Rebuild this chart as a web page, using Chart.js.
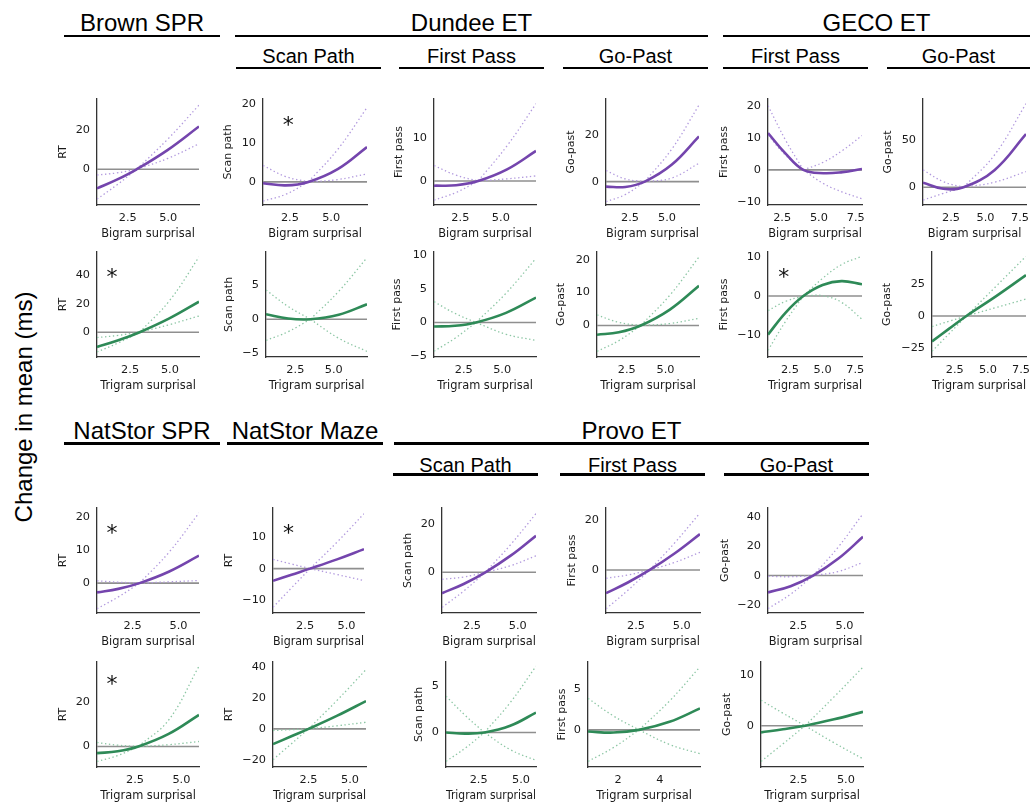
<!DOCTYPE html>
<html>
<head>
<meta charset="utf-8">
<script src="https://cdn.jsdelivr.net/npm/chart.js@4.4.1/dist/chart.umd.min.js"></script>
<style>
  html, body { margin: 0; padding: 0; background: #fff; }
  #page { position: relative; width: 1030px; height: 804px; overflow: hidden; font-family: "Liberation Sans", Arial, sans-serif; }
  .hdr { position: absolute; text-align: center; line-height: 1; color: #000; white-space: nowrap; }
  .rule { position: absolute; height: 2.6px; background: #000; }
  canvas { position: absolute; }
  #ylab { position: absolute; left: -126px; top: 394.5px; width: 300px; height: 24px; line-height: 24px; font-size: 24px; text-align: center; transform: rotate(-90deg); color: #000; }
</style>
</head>
<body>
<div id="page">
  <div id="ylab">Change in mean (ms)</div>
</div>
<script>
// shared x tick labels
const ticksHalf = [2.5, 5.0];
const ticksHalf3 = [2.5, 5.0, 7.5];
const ticksTwo = [2, 4];

// Brown SPR
const brownBiX = [0.6, 1.825, 3.05, 4.975, 6.9];
const brownBiFit = [-9.7, -5.25, 0, 9.86, 21.7];
const brownBiHi = [-2.9, -1.85, 0, 15.3, 32.5];
const brownBiLo = [-15.1, -7.95, 0, 5.5, 12.9];
const brownBiYLim = [-18.1, 35.6];
const brownBiYTicks = [0, 20];

const brownTriX = [0.42, 1.76, 3.1, 4.965, 6.83];
const brownTriFit = [-10.3, -5.68, 0, 9.67, 21.4];
const brownTriHi = [-3.8, -2.2, 0, 22, 52.8];
const brownTriLo = [-13.8, -7.5, 0, 5.3, 11.4];
const brownTriYLim = [-17.4, 56.3];
const brownTriYTicks = [0, 20, 40];

// Dundee ET
const dunScanBiX = [0.874, 2.247, 3.62, 5.395, 7.17];
const dunScanBiFit = [-0.34, -0.89, 0, 3.27, 8.93];
const dunScanBiHi = [4.2, 1.38, 0, 8.3, 19.0];
const dunScanBiLo = [-4.9, -3.17, 0, 0.6, 2.06];
const dunScanBiYLim = [-5.9, 21.2];
const dunScanBiYTicks = [0, 10, 20];

const dunScanTriX = [0.587, 2.03, 3.48, 5.325, 7.17];
const dunScanTriFit = [0.73, 0.1, 0, 0.66, 2.2];
const dunScanTriHi = [4.3, 1.88, 0, 4.1, 9.07];
const dunScanTriLo = [-3.12, -1.83, 0, -2.8, -4.73];
const dunScanTriYLim = [-5.56, 9.9];
const dunScanTriYTicks = [-5, 0, 5];

const dunFpBiX = [0.874, 2.237, 3.6, 5.385, 7.17];
const dunFpBiFit = [-1.1, -1.01, 0, 2.71, 7.0];
const dunFpBiHi = [3.6, 1.34, 0, 8.2, 18.0];
const dunFpBiLo = [-4.45, -2.69, 0, 0.5, 1.17];
const dunFpBiYLim = [-5.6, 19.1];
const dunFpBiYTicks = [0, 10];

const dunFpTriX = [0.57, 1.935, 3.3, 5.25, 7.2];
const dunFpTriFit = [-0.6, -0.5, 0, 1.43, 3.7];
const dunFpTriHi = [3.1, 1.35, 0, 4.36, 9.55];
const dunFpTriLo = [-4.3, -2.35, 0, -1.76, -2.67];
const dunFpTriYLim = [-5.15, 10.5];
const dunFpTriYTicks = [-5, 0, 5, 10];

const dunGpBiX = [0.874, 2.187, 3.5, 5.335, 7.17];
const dunGpBiFit = [-2.14, -2.29, 0, 7.27, 19.3];
const dunGpBiHi = [4.7, 1.13, 0, 13.97, 32.7];
const dunGpBiLo = [-8.6, -5.52, 0, 1.55, 7.86];
const dunGpBiYLim = [-10, 35.3];
const dunGpBiYTicks = [0, 20];

const dunGpTriX = [0.58, 1.99, 3.4, 5.28, 7.16];
const dunGpTriFit = [-2.8, -2.06, 0, 4.84, 12.06];
const dunGpTriHi = [3.2, 0.94, 0, 9.2, 20.8];
const dunGpTriLo = [-7.84, -4.58, 0, 0.6, 2.2];
const dunGpTriYLim = [-9.55, 22.3];
const dunGpTriYTicks = [0, 10, 20];

// GECO ET
const gecoFpBiX = [1.54, 2.74, 3.94, 5.3, 6.6, 7.93];
const gecoFpBiFit = [11.6, 5.1, 0, -1.05, -0.7, 0.3];
const gecoFpBiHi = [20.2, 9.3, 0, 2.4, 6.1, 10.8];
const gecoFpBiLo = [10.9, 4.6, 0, -4.3, -7.0, -9.1];
const gecoFpBiYLim = [-11.05, 22.3];
const gecoFpBiYTicks = [-10, 0, 10, 20];

const gecoGpBiX = [0.48, 1.95, 3.41, 5.67, 7.93];
const gecoGpBiFit = [5.0, -1.61, 0, 18.6, 56.8];
const gecoGpBiHi = [18.6, 6.0, 0, 34.9, 89.3];
const gecoGpBiLo = [-13.6, -6.5, 0, 5.5, 16.8];
const gecoGpBiYLim = [-18.9, 94.3];
const gecoGpBiYTicks = [0, 50];

const gecoFpTriX = [0.83, 2.18, 3.53, 5.0, 6.45, 8.01];
const gecoFpTriFit = [-9.8, -4.2, 0, 2.8, 3.8, 3.0];
const gecoFpTriHi = [-3.7, -1.35, 0, 4.5, 8.0, 10.1];
const gecoFpTriLo = [-13.8, -6.4, 0, 0.1, -1.6, -5.9];
const gecoFpTriYLim = [-15.5, 11.2];
const gecoFpTriYTicks = [-10, 0, 10];

const gecoGpTriX = [0.78, 2.08, 3.38, 5.63, 7.88];
const gecoGpTriFit = [-19.9, -9.9, 0, 15.5, 31.9];
const gecoGpTriHi = [-8.3, -4.1, 0, 23.3, 46.6];
const gecoGpTriLo = [-27.7, -13.8, 0, 6.6, 13.2];
const gecoGpTriYLim = [-32.1, 50];
const gecoGpTriYTicks = [-25, 0, 25];

// NatStor
const natSprBiX = [0.56, 1.72, 2.88, 4.5, 6.12];
const natSprBiFit = [-2.83, -1.75, 0, 3.55, 8.38];
const natSprBiHi = [0.7, 0.3, 0, 9.5, 21.4];
const natSprBiLo = [-7.8, -4.2, 0, 0.4, 0.8];
const natSprBiYLim = [-9.1, 22.9];
const natSprBiYTicks = [0, 10, 20];

const natSprTriX = [0.45, 1.565, 2.68, 4.315, 5.95];
const natSprTriFit = [-3.0, -2.18, 0, 5.68, 14.3];
const natSprTriHi = [1.8, 0.6, 0, 12, 36.4];
const natSprTriLo = [-6.8, -4.1, 0, 0.8, 2.26];
const natSprTriYLim = [-9.3, 38.3];
const natSprTriYTicks = [0, 20];

const natMazeBiX = [0.56, 1.68, 2.8, 4.43, 6.06];
const natMazeBiFit = [-3.83, -1.9, 0, 2.9, 6.1];
const natMazeBiHi = [2.9, 1.45, 0, 8.3, 17.2];
const natMazeBiLo = [-12.1, -6.0, 0, -1.85, -3.73];
const natMazeBiYLim = [-13.9, 19.0];
const natMazeBiYTicks = [-10, 0, 10];

const natMazeTriX = [0.36, 1.43, 2.5, 4.23, 5.96];
const natMazeTriFit = [-9.8, -4.9, 0, 8.5, 17.9];
const natMazeTriHi = [-1.06, -0.5, 0, 18.5, 38.1];
const natMazeTriLo = [-19.8, -9.9, 0, 2.0, 4.26];
const natMazeTriYLim = [-24.5, 43];
const natMazeTriYTicks = [-20, 0, 20, 40];

// Provo ET
const provoScanBiX = [0.86, 2.045, 3.23, 4.615, 6.0];
const provoScanBiFit = [-8.57, -4.78, 0, 6.83, 15.0];
const provoScanBiHi = [-2.86, -1.93, 0, 11.4, 24.1];
const provoScanBiLo = [-14.4, -7.7, 0, 2.73, 6.8];
const provoScanBiYLim = [-16.7, 26.4];
const provoScanBiYTicks = [0, 20];

const provoScanTriX = [0.57, 1.705, 2.84, 4.365, 5.89];
const provoScanTriFit = [0, -0.12, 0, 0.72, 2.13];
const provoScanTriHi = [3.9, 1.83, 0, 3.2, 7.1];
const provoScanTriLo = [-3.09, -1.67, 0, -1.83, -2.98];
const provoScanTriYLim = [-3.69, 7.55];
const provoScanTriYTicks = [0, 5];

const provoFpBiX = [0.86, 2.055, 3.25, 4.625, 6.0];
const provoFpBiFit = [-9.33, -5.04, 0, 6.71, 14.4];
const provoFpBiHi = [-3.33, -2.04, 0, 10.96, 22.9];
const provoFpBiLo = [-15.6, -8.17, 0, 3.05, 7.07];
const provoFpBiYLim = [-17.3, 24.9];
const provoFpBiYTicks = [0, 20];

const provoFpTriX = [0.56, 1.78, 3.0, 4.46, 5.92];
const provoFpTriFit = [-0.2, -0.33, 0, 1.0, 2.66];
const provoFpTriHi = [3.9, 1.72, 0, 3.57, 7.8];
const provoFpTriLo = [-3.9, -2.18, 0, -1.8, -2.95];
const provoFpTriYLim = [-4.59, 8.4];
const provoFpTriYTicks = [0, 5];

const provoGpBiX = [0.86, 2.08, 3.3, 4.65, 6.0];
const provoGpBiFit = [-11.6, -7.28, 0, 11.5, 26.6];
const provoGpBiHi = [-0.5, -0.8, 0, 19.4, 42.5];
const provoGpBiLo = [-22.7, -12.8, 0, 2.75, 9.1];
const provoGpBiYLim = [-25.7, 46.4];
const provoGpBiYTicks = [-20, 0, 20, 40];

const provoGpTriX = [0.53, 1.69, 2.85, 4.375, 5.9];
const provoGpTriFit = [-1.3, -0.7, 0, 1.25, 2.73];
const provoGpTriHi = [5.0, 2.45, 0, 5.65, 11.5];
const provoGpTriLo = [-7.0, -3.55, 0, -3.35, -6.5];
const provoGpTriYLim = [-8.1, 12.5];
const provoGpTriYTicks = [0, 10];

const COLORS = {
  bi: { line: "#7445ad", ci: "#b29ade" },
  tri: { line: "#2e8a57", ci: "#8cc6a4" },
};

// header texts and their rules: [text, left, right, textTop, ruleY, size]
const headers = [
  ["Brown SPR", 64, 220, 11.4, 34.7, 24],
  ["Dundee ET", 235, 708, 11.4, 34.7, 24],
  ["GECO ET", 723, 1030, 11.4, 34.7, 24],
  ["Scan Path", 236, 381, 46.1, 66.7, 20],
  ["First Pass", 399, 544, 46.1, 66.7, 20],
  ["Go-Past", 563, 708, 46.1, 66.7, 20],
  ["First Pass", 723, 868, 46.1, 66.7, 20],
  ["Go-Past", 887, 1030, 46.1, 66.7, 20],
  ["NatStor SPR", 64, 220, 419, 442, 24],
  ["NatStor Maze", 227, 383, 419, 442, 24],
  ["Provo ET", 394, 869, 419, 442, 24],
  ["Scan Path", 393, 538, 454.8, 473.3, 20],
  ["First Pass", 560, 705, 454.8, 473.3, 20],
  ["Go-Past", 724, 869, 454.8, 473.3, 20],
];

// box = [axis left, axis right, top, bottom] in page pixels
const panels = [
  { x: brownBiX, fit: brownBiFit, hi: brownBiHi, lo: brownBiLo, yLim: brownBiYLim, yTicks: brownBiYTicks, xTicks: ticksHalf, kind: "bi", ylab: "RT", box: [97, 199, 99, 205], yOff: 33.5 },
  { x: brownTriX, fit: brownTriFit, hi: brownTriHi, lo: brownTriLo, yLim: brownTriYLim, yTicks: brownTriYTicks, xTicks: ticksHalf, kind: "tri", ylab: "RT", box: [97, 199, 252, 357], yOff: 33.5, star: [0.146, 0.187] },
  { x: dunScanBiX, fit: dunScanBiFit, hi: dunScanBiHi, lo: dunScanBiLo, yLim: dunScanBiYLim, yTicks: dunScanBiYTicks, xTicks: ticksHalf, kind: "bi", ylab: "Scan path", box: [263, 367, 99, 205], yOff: 34, star: [0.242, 0.194] },
  { x: dunScanTriX, fit: dunScanTriFit, hi: dunScanTriHi, lo: dunScanTriLo, yLim: dunScanTriYLim, yTicks: dunScanTriYTicks, xTicks: ticksHalf, kind: "tri", ylab: "Scan path", box: [266, 367, 252, 357], yOff: 36.4 },
  { x: dunFpBiX, fit: dunFpBiFit, hi: dunFpBiHi, lo: dunFpBiLo, yLim: dunFpBiYLim, yTicks: dunFpBiYTicks, xTicks: ticksHalf, kind: "bi", ylab: "First pass", box: [434, 536, 99, 205], yOff: 34 },
  { x: dunFpTriX, fit: dunFpTriFit, hi: dunFpTriHi, lo: dunFpTriLo, yLim: dunFpTriYLim, yTicks: dunFpTriYTicks, xTicks: ticksHalf, kind: "tri", ylab: "First pass", box: [434, 536, 252, 357], yOff: 36 },
  { x: dunGpBiX, fit: dunGpBiFit, hi: dunGpBiHi, lo: dunGpBiLo, yLim: dunGpBiYLim, yTicks: dunGpBiYTicks, xTicks: ticksHalf, kind: "bi", ylab: "Go-past", box: [606, 699, 99, 205], yOff: 34 },
  { x: dunGpTriX, fit: dunGpTriFit, hi: dunGpTriHi, lo: dunGpTriLo, yLim: dunGpTriYLim, yTicks: dunGpTriYTicks, xTicks: ticksHalf, kind: "tri", ylab: "Go-past", box: [597, 699, 252, 357], yOff: 35 },
  { x: gecoFpBiX, fit: gecoFpBiFit, hi: gecoFpBiHi, lo: gecoFpBiLo, yLim: gecoFpBiYLim, yTicks: gecoFpBiYTicks, xTicks: ticksHalf3, kind: "bi", ylab: "First pass", box: [768, 862, 99, 205], yOff: 43 },
  { x: gecoFpTriX, fit: gecoFpTriFit, hi: gecoFpTriHi, lo: gecoFpTriLo, yLim: gecoFpTriYLim, yTicks: gecoFpTriYTicks, xTicks: ticksHalf3, kind: "tri", ylab: "First pass", box: [768, 862, 252, 357], yOff: 43, star: [0.168, 0.187] },
  { x: gecoGpBiX, fit: gecoGpBiFit, hi: gecoGpBiHi, lo: gecoGpBiLo, yLim: gecoGpBiYLim, yTicks: gecoGpBiYTicks, xTicks: ticksHalf3, kind: "bi", ylab: "Go-past", box: [923, 1026, 99, 205], yOff: 34 },
  { x: gecoGpTriX, fit: gecoGpTriFit, hi: gecoGpTriHi, lo: gecoGpTriLo, yLim: gecoGpTriYLim, yTicks: gecoGpTriYTicks, xTicks: ticksHalf3, kind: "tri", ylab: "Go-past", box: [932, 1026, 252, 357], yOff: 44 },
  { x: natSprBiX, fit: natSprBiFit, hi: natSprBiHi, lo: natSprBiLo, yLim: natSprBiYLim, yTicks: natSprBiYTicks, xTicks: ticksHalf, kind: "bi", ylab: "RT", box: [97, 199, 508, 613], yOff: 33.4, star: [0.146, 0.18] },
  { x: natSprTriX, fit: natSprTriFit, hi: natSprTriHi, lo: natSprTriLo, yLim: natSprTriYLim, yTicks: natSprTriYTicks, xTicks: ticksHalf, kind: "tri", ylab: "RT", box: [97, 199, 662, 767], yOff: 33.4, star: [0.146, 0.157] },
  { x: natMazeBiX, fit: natMazeBiFit, hi: natMazeBiHi, lo: natMazeBiLo, yLim: natMazeBiYLim, yTicks: natMazeBiYTicks, xTicks: ticksHalf, kind: "bi", ylab: "RT", box: [273, 364, 508, 613], yOff: 43.4, star: [0.17, 0.18] },
  { x: natMazeTriX, fit: natMazeTriFit, hi: natMazeTriHi, lo: natMazeTriLo, yLim: natMazeTriYLim, yTicks: natMazeTriYTicks, xTicks: ticksHalf, kind: "tri", ylab: "RT", box: [273, 366, 662, 767], yOff: 43.4 },
  { x: provoScanBiX, fit: provoScanBiFit, hi: provoScanBiHi, lo: provoScanBiLo, yLim: provoScanBiYLim, yTicks: provoScanBiYTicks, xTicks: ticksHalf, kind: "bi", ylab: "Scan path", box: [442, 536, 508, 613], yOff: 33.4 },
  { x: provoScanTriX, fit: provoScanTriFit, hi: provoScanTriHi, lo: provoScanTriLo, yLim: provoScanTriYLim, yTicks: provoScanTriYTicks, xTicks: ticksHalf, kind: "tri", ylab: "Scan path", box: [446, 536, 662, 767], yOff: 26.4 },
  { x: provoFpBiX, fit: provoFpBiFit, hi: provoFpBiHi, lo: provoFpBiLo, yLim: provoFpBiYLim, yTicks: provoFpBiYTicks, xTicks: ticksHalf, kind: "bi", ylab: "First pass", box: [606, 700, 508, 613], yOff: 33 },
  { x: provoFpTriX, fit: provoFpTriFit, hi: provoFpTriHi, lo: provoFpTriLo, yLim: provoFpTriYLim, yTicks: provoFpTriYTicks, xTicks: ticksTwo, kind: "tri", ylab: "First pass", box: [588, 700, 662, 767], yOff: 25.6 },
  { x: provoGpBiX, fit: provoGpBiFit, hi: provoGpBiHi, lo: provoGpBiLo, yLim: provoGpBiYLim, yTicks: provoGpBiYTicks, xTicks: ticksHalf, kind: "bi", ylab: "Go-past", box: [768, 863, 508, 613], yOff: 42.6 },
  { x: provoGpTriX, fit: provoGpTriFit, hi: provoGpTriHi, lo: provoGpTriLo, yLim: provoGpTriYLim, yTicks: provoGpTriYTicks, xTicks: ticksHalf, kind: "tri", ylab: "Go-past", box: [761, 863, 662, 767], yOff: 33.3 },
];

const page = document.getElementById("page");

headers.forEach(function (h) {
  const t = document.createElement("div");
  t.className = "hdr";
  t.textContent = h[0];
  t.style.left = h[1] + "px";
  t.style.width = h[2] - h[1] + "px";
  t.style.top = h[3] + "px";
  t.style.fontSize = h[5] + "px";
  page.appendChild(t);
  const r = document.createElement("div");
  r.className = "rule";
  r.style.left = h[1] + "px";
  r.style.width = h[2] - h[1] + "px";
  r.style.top = h[4] + "px";
  page.appendChild(r);
});

function fmtTick(v, dec) {
  const s = Math.abs(v).toFixed(dec);
  return v < 0 ? "\u2212" + s : s;
}

const starPlugin = {
  id: "star",
  afterDraw(chart, args, opts) {
    if (!opts.at) return;
    const a = chart.chartArea;
    const ctx = chart.ctx;
    ctx.save();
    ctx.font = '22px "DejaVu Sans"';
    ctx.fillStyle = "#111";
    ctx.textAlign = "center";
    ctx.textBaseline = "alphabetic";
    ctx.fillText("*", a.left + opts.at[0] * (a.right - a.left), a.top + opts.at[1] * (a.bottom - a.top) + 0.58 * 22);
    ctx.restore();
  },
};

const pts = (xs, ys) => xs.map((x, i) => ({ x: x, y: ys[i] }));

panels.forEach(function (p) {
  const padL = 62, padT = 16, padR = 16, padB = 2, xh = 36;
  const yw = Math.round(p.yOff + 6.6);
  const [left, right, top, bottom] = p.box;
  const cw = right - left + padL + padR;
  const ch = bottom - top + padT + xh + padB;
  const cv = document.createElement("canvas");
  cv.width = cw;
  cv.height = ch;
  cv.style.left = left - padL + "px";
  cv.style.top = top - padT + "px";
  cv.style.width = cw + "px";
  cv.style.height = ch + "px";
  page.appendChild(cv);

  const col = COLORS[p.kind];
  const n = p.x.length;
  const k = p.hi.findIndex((v, i) => v === 0 && p.lo[i] === 0);
  const xdec = p.xTicks.every((v) => Number.isInteger(v)) ? 0 : 1;

  const ciSet = (ys, a, b) => ({
    data: pts(p.x.slice(a, b), ys.slice(a, b)),
    borderColor: col.ci,
    borderWidth: 1.3,
    borderDash: [1.4, 2.6],
    tension: 0.4,
  });

  const datasets = [
    { data: pts(p.x, p.fit), borderColor: col.line, borderWidth: 2.6, tension: 0.4 },
    ciSet(p.hi, 0, k + 1),
    ciSet(p.hi, k, n),
    ciSet(p.lo, 0, k + 1),
    ciSet(p.lo, k, n),
    { data: [{ x: p.x[0], y: 0 }, { x: p.x[n - 1], y: 0 }], borderColor: "#8f8f8f", borderWidth: 1.6, tension: 0 },
  ];
  datasets.forEach((d) => {
    d.showLine = true;
    d.pointRadius = 0;
    d.fill = false;
  });

  const tickFont = { family: "DejaVu Sans", size: 11.3 };

  new Chart(cv.getContext("2d"), {
    type: "scatter",
    data: { datasets: datasets },
    plugins: [starPlugin],
    options: {
      responsive: false,
      animation: false,
      devicePixelRatio: 1,
      layout: { padding: { left: padL - yw, top: padT, right: padR, bottom: padB } },
      plugins: { legend: { display: false }, tooltip: { enabled: false }, star: { at: p.star } },
      scales: {
        x: {
          type: "linear",
          min: p.x[0],
          max: p.x[n - 1],
          afterBuildTicks: (s) => { s.ticks = p.xTicks.map((v) => ({ value: v })); },
          afterFit: (s) => { s.height = xh; },
          ticks: { autoSkip: false, maxRotation: 0, padding: 6.5, color: "#1a1a1a", font: tickFont, callback: (v) => fmtTick(v, xdec) },
          grid: { display: true, drawOnChartArea: false, drawTicks: false },
          border: { display: true, color: "#333", width: 1.3 },
          title: { display: true, text: p.kind === "bi" ? "Bigram surprisal" : "Trigram surprisal", padding: 0, color: "#1a1a1a", font: { family: "DejaVu Sans", size: 11.4 } },
        },
        y: {
          type: "linear",
          min: p.yLim[0],
          max: p.yLim[1],
          afterBuildTicks: (s) => { s.ticks = p.yTicks.map((v) => ({ value: v })); },
          afterFit: (s) => { s.width = yw; },
          ticks: { autoSkip: false, padding: 7, color: "#1a1a1a", font: tickFont, callback: (v) => fmtTick(v, 0) },
          grid: { display: true, drawOnChartArea: false, drawTicks: false },
          border: { display: true, color: "#333", width: 1.3 },
          title: { display: true, text: p.ylab, padding: 0, color: "#1a1a1a", font: { family: "DejaVu Sans", size: 11 } },
        },
      },
    },
  });
});
</script>
</body>
</html>
